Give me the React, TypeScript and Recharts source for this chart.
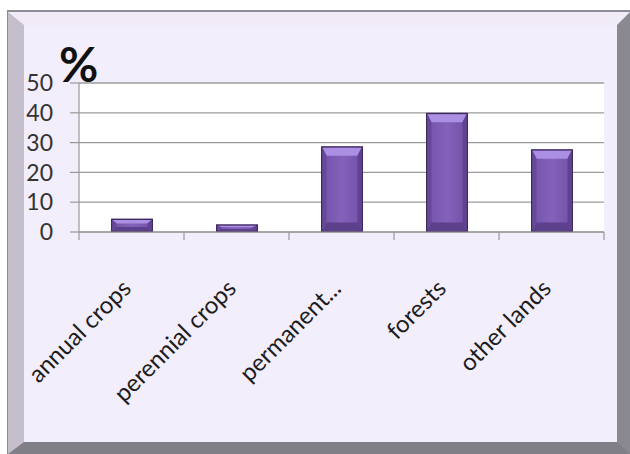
import React from 'react';
import { BarChart, Bar, XAxis, YAxis, CartesianGrid } from 'recharts';

const categories = ['annual crops', 'perennial crops', 'permanent...', 'forests', 'other lands'];
const shares = [4.5, 2.6, 28.8, 40, 27.8];
const yTicks = [0, 10, 20, 30, 40, 50];

const data = categories.map((name, i) => ({ name, value: shares[i] }));

const PLOT_W = 525;

function BevelBar(props: any) {
  const { x, y, width, height } = props;
  if (!height || height <= 0) return null;
  const e = 1.5;
  const ix = x + e;
  const iy = y + e;
  const iw = width - 2 * e;
  const ih = height - 2 * e;
  const tb = Math.min(8, ih / 3);
  const sb = Math.min(4, iw / 5);
  return (
    <g>
      <defs>
        <linearGradient id="barFace" x1="0" y1="0" x2="1" y2="0">
          <stop offset="0%" stopColor="#7453a9" />
          <stop offset="50%" stopColor="#8462bb" />
          <stop offset="100%" stopColor="#7351a8" />
        </linearGradient>
      </defs>
      <rect x={x} y={y} width={width} height={height} fill="#3e2a60" />
      <rect x={ix} y={iy} width={iw} height={ih} fill="url(#barFace)" />
      <polygon
        points={`${ix},${iy} ${ix + iw},${iy} ${ix + iw - sb},${iy + tb} ${ix + sb},${iy + tb}`}
        fill="#ab8fe2"
      />
      <polygon
        points={`${ix},${iy} ${ix + sb},${iy + tb} ${ix + sb},${iy + ih - tb} ${ix},${iy + ih}`}
        fill="#684999"
      />
      <polygon
        points={`${ix + iw},${iy} ${ix + iw - sb},${iy + tb} ${ix + iw - sb},${iy + ih - tb} ${ix + iw},${iy + ih}`}
        fill="#5f4290"
      />
      <polygon
        points={`${ix},${iy + ih} ${ix + iw},${iy + ih} ${ix + iw - sb},${iy + ih - tb} ${ix + sb},${iy + ih - tb}`}
        fill="#5c408b"
      />
    </g>
  );
}

function CategoryTick(props: any) {
  const { x, y, payload, index, visibleTicksCount } = props;
  const count = visibleTicksCount || categories.length;
  const half = PLOT_W / count / 2;
  const lx = x - half;
  const rx = x + half;
  return (
    <g>
      <line x1={lx} y1={y} x2={lx} y2={y + 8} stroke="#999" strokeWidth={1.2} />
      {index === count - 1 && <line x1={rx} y1={y} x2={rx} y2={y + 8} stroke="#999" strokeWidth={1.2} />}
      <g transform={`translate(${x + 1},${y + 58}) rotate(-45)`}>
        <text x={0} y={0} textAnchor="end" fill="#1c1c1c" style={{ fontFamily: 'Lato', fontSize: 24 }}>
          {payload.value}
        </text>
      </g>
    </g>
  );
}

export default function App() {
  return (
    <div
      style={{
        position: 'absolute',
        left: 7,
        top: 10,
        width: 623,
        height: 444,
        boxSizing: 'border-box',
        background: '#8e8c94',
        paddingTop: 2,
        paddingLeft: 1,
      }}
    >
      <div
        style={{
          position: 'relative',
          width: 622,
          height: 442,
          boxSizing: 'border-box',
          borderTop: '13px solid #f0ebf6',
          borderLeft: '16px solid #c5bfcd',
          borderRight: '13px solid #8a8890',
          borderBottom: '12px solid #807e86',
          background: '#f3eefb',
        }}
      >
        <div
          style={{
            position: 'absolute',
            left: 35,
            top: 16,
            fontFamily: 'Lato',
            fontWeight: 'bold',
            fontSize: 48,
            lineHeight: '46px',
            color: '#111',
          }}
        >
          %
        </div>
        <BarChart width={593} height={417} data={data} margin={{ top: 58, right: 13, left: 0, bottom: 0 }}>
          <CartesianGrid horizontal vertical={false} fill="#ffffff" stroke="#9b9b9b" strokeWidth={1.3} />
          <XAxis
            dataKey="name"
            height={210}
            interval={0}
            tickSize={0}
            tickMargin={0}
            tickLine={false}
            axisLine={{ stroke: '#999', strokeWidth: 1.2 }}
            tick={<CategoryTick />}
          />
          <YAxis
            width={55}
            domain={[0, 50]}
            ticks={yTicks}
            interval={0}
            tickSize={9}
            tickMargin={17}
            axisLine={{ stroke: '#999', strokeWidth: 1.2 }}
            tickLine={{ stroke: '#999', strokeWidth: 1.2 }}
            tick={{ fontSize: 23, fill: '#333', fontFamily: 'Lato' }}
          />
          <Bar dataKey="value" barSize={42} shape={<BevelBar />} isAnimationActive={false} />
        </BarChart>
      </div>
    </div>
  );
}
